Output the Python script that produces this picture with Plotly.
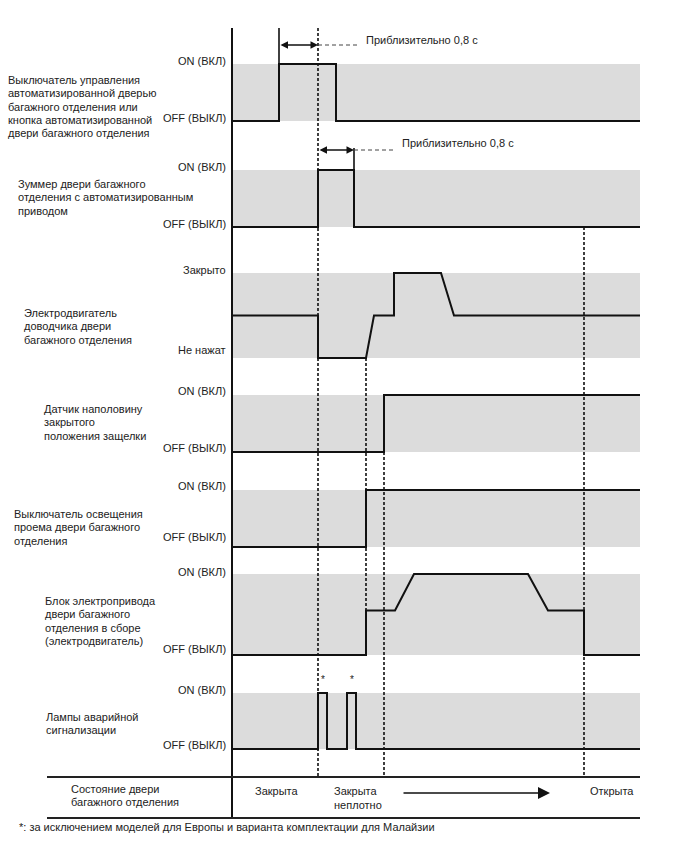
import plotly.graph_objects as go

# ---------------- data ----------------
# time axis: arbitrary units (0 = start of diagram)
sw_t = [0, 47, 47, 104, 104, 408]
sw_v = [0, 0, 1, 1, 0, 0]

buzz_t = [0, 86, 86, 122, 122, 408]
buzz_v = [0, 0, 1, 1, 0, 0]

closer_t = [0, 86, 86, 134, 142, 162, 162, 209, 222, 408]
closer_v = [0.5, 0.5, 0, 0, 0.5, 0.5, 1, 1, 0.5, 0.5]

half_t = [0, 152, 152, 408]
half_v = [0, 0, 1, 1]

light_t = [0, 134, 134, 408]
light_v = [0, 0, 1, 1]

drive_t = [0, 134, 134, 163, 182, 296, 316, 352, 352, 408]
drive_v = [0, 0, 0.55, 0.55, 1, 1, 0.55, 0.55, 0, 0]

hazard_t = [0, 86, 86, 95, 95, 115, 115, 124, 124, 408]
hazard_v = [0, 0, 1, 1, 0, 0, 1, 1, 0, 0]

signal_labels = [
    ["Выключатель управления", "автоматизированной дверью", "багажного отделения или",
     "кнопка автоматизированной", "двери багажного отделения"],
    ["Зуммер двери багажного", "отделения с автоматизированным", "приводом"],
    ["Электродвигатель", "доводчика двери", "багажного отделения"],
    ["Датчик наполовину", "закрытого", "положения защелки"],
    ["Выключатель освещения", "проема двери багажного", "отделения"],
    ["Блок электропривода", "двери багажного", "отделения в сборе", "(электродвигатель)"],
    ["Лампы аварийной", "сигнализации"],
]
top_state = ["ON (ВКЛ)", "ON (ВКЛ)", "Закрыто", "ON (ВКЛ)", "ON (ВКЛ)", "ON (ВКЛ)", "ON (ВКЛ)"]
bot_state = ["OFF (ВЫКЛ)", "OFF (ВЫКЛ)", "Не нажат", "OFF (ВЫКЛ)", "OFF (ВЫКЛ)", "OFF (ВЫКЛ)", "OFF (ВЫКЛ)"]

marker_times = [86, 134, 152, 352]          # dotted event lines
approx_text = "Приблизительно 0,8 с"
door_title = ["Состояние двери", "багажного отделения"]
door_states = ["Закрыта", "Закрыта<br>неплотно", "Открыта"]
door_state_t = [21, 100, 356]
footnote = "*: за исключением моделей для Европы и варианта комплектации для Малайзии"

signals = [(sw_t, sw_v), (buzz_t, buzz_v), (closer_t, closer_v), (half_t, half_v),
           (light_t, light_v), (drive_t, drive_v), (hazard_t, hazard_v)]

# ---------------- layout constants (pixels) ----------------
W, H = 688, 852
X0 = 232            # pixel position of t = 0
T_END = 408
FONT = "Liberation Sans, Arial, sans-serif"
TXT = "#222"

bands = [(64, 121), (170, 227), (273, 358), (395, 452), (490, 547), (574, 655), (693, 749)]
label_x = [6, 16, 22, 42, 12, 43, 44]
label_y0 = [80, 184, 313, 409, 514, 601, 717]
label_step = 13.3
top_lab_y = [61, 167, 270, 391, 486, 572, 690]
bot_lab_y = [118, 224, 350, 448, 537, 649, 745]
marker_spans = [(28, 777), (358, 610), (452, 777), (227, 777)]


def tx(px):
    return px - X0


fig = go.Figure()
shapes = []
ann = []

# bands
for (on_y, off_y) in bands:
    shapes.append(dict(type="rect", xref="x", yref="y", x0=0, x1=T_END, y0=on_y, y1=off_y,
                       fillcolor="#dcdcdc", line=dict(width=0), layer="below"))

# dotted event lines
for t, (ya, yb) in zip(marker_times, marker_spans):
    shapes.append(dict(type="line", xref="x", yref="y", x0=t, x1=t, y0=ya, y1=yb,
                       line=dict(color="#111", width=1.6, dash="3px,2px"), layer="above"))

# main vertical axis and bottom table lines
shapes.append(dict(type="line", xref="x", yref="y", x0=0, x1=0, y0=28, y1=818,
                   line=dict(color="#111", width=2)))
for yy in (777, 818):
    shapes.append(dict(type="line", xref="x", yref="y", x0=tx(47), x1=T_END, y0=yy, y1=yy,
                       line=dict(color="#222", width=2)))

# extension lines for measurement arrows
shapes.append(dict(type="line", xref="x", yref="y", x0=sw_t[1], x1=sw_t[1], y0=28, y1=121,
                   line=dict(color="#111", width=1.6)))
shapes.append(dict(type="line", xref="x", yref="y", x0=buzz_t[3], x1=buzz_t[3], y0=148, y1=227,
                   line=dict(color="#111", width=1.6)))
# dashed leader lines
shapes.append(dict(type="line", xref="x", yref="y", x0=86, x1=tx(358), y0=45, y1=45,
                   line=dict(color="#444", width=1, dash="4px,3px")))
shapes.append(dict(type="line", xref="x", yref="y", x0=122, x1=tx(395), y0=150, y1=150,
                   line=dict(color="#444", width=1, dash="4px,3px")))

# signal traces
for (t, v), (on_y, off_y) in zip(signals, bands):
    ys = [off_y - lv * (off_y - on_y) for lv in v]
    fig.add_trace(go.Scatter(x=t, y=ys, mode="lines", hoverinfo="skip",
                             line=dict(color="#111", width=2), showlegend=False))

# measurement arrows (double headed)
for (xa, xb, yy) in [(sw_t[1], 86, 45), (86, buzz_t[3], 150)]:
    ann.append(dict(x=xb, y=yy, ax=xa, ay=yy, xref="x", yref="y", axref="x", ayref="y",
                    text="", showarrow=True, arrowhead=2, startarrowhead=2, arrowside="end+start",
                    arrowsize=1, arrowwidth=1.5, arrowcolor="#111", standoff=0, startstandoff=0))
ann.append(dict(x=tx(364), y=40, xref="x", yref="y", text=approx_text, showarrow=False,
                xanchor="left", yanchor="middle", font=dict(family=FONT, size=11, color=TXT)))
ann.append(dict(x=tx(400), y=143, xref="x", yref="y", text=approx_text, showarrow=False,
                xanchor="left", yanchor="middle", font=dict(family=FONT, size=11, color=TXT)))

# left labels
for i, lines in enumerate(signal_labels):
    for j, line in enumerate(lines):
        ann.append(dict(x=tx(label_x[i]), y=label_y0[i] + j * label_step, xref="x", yref="y",
                        text=line, showarrow=False, xanchor="left", yanchor="middle",
                        font=dict(family=FONT, size=11, color=TXT)))
    ann.append(dict(x=tx(228), y=top_lab_y[i], xref="x", yref="y", text=top_state[i],
                    showarrow=False, xanchor="right", yanchor="middle",
                    font=dict(family=FONT, size=11, color=TXT)))
    ann.append(dict(x=tx(228), y=bot_lab_y[i], xref="x", yref="y", text=bot_state[i],
                    showarrow=False, xanchor="right", yanchor="middle",
                    font=dict(family=FONT, size=11, color=TXT)))

# asterisks
for t in (91, 120):
    ann.append(dict(x=t, y=679, xref="x", yref="y", text="*", showarrow=False,
                    xanchor="center", yanchor="middle", font=dict(family=FONT, size=10, color=TXT)))

# bottom table
for j, line in enumerate(door_title):
    ann.append(dict(x=tx(69), y=789 + j * 13, xref="x", yref="y", text=line, showarrow=False,
                    xanchor="left", yanchor="middle", font=dict(family=FONT, size=11, color=TXT)))
for t, s in zip(door_state_t, door_states):
    ann.append(dict(x=t, y=783, xref="x", yref="y", text=s, showarrow=False,
                    xanchor="left", yanchor="top", align="left",
                    font=dict(family=FONT, size=11, color=TXT)))
ann.append(dict(x=tx(550), y=793, ax=tx(402), ay=793, xref="x", yref="y", axref="x", ayref="y",
                text="", showarrow=True, arrowhead=2, arrowsize=1.6, arrowwidth=1.5,
                arrowcolor="#111", standoff=0))
ann.append(dict(x=tx(17), y=827, xref="x", yref="y", text=footnote, showarrow=False,
                xanchor="left", yanchor="middle", font=dict(family=FONT, size=11, color=TXT)))

fig.update_layout(
    width=W, height=H, margin=dict(l=0, r=0, t=0, b=0),
    paper_bgcolor="white", plot_bgcolor="white",
    xaxis=dict(range=[-X0, W - X0], visible=False, fixedrange=True),
    yaxis=dict(range=[H, 0], visible=False, fixedrange=True),
    shapes=shapes, annotations=ann, showlegend=False,
)

fig.write_html("out.html")
